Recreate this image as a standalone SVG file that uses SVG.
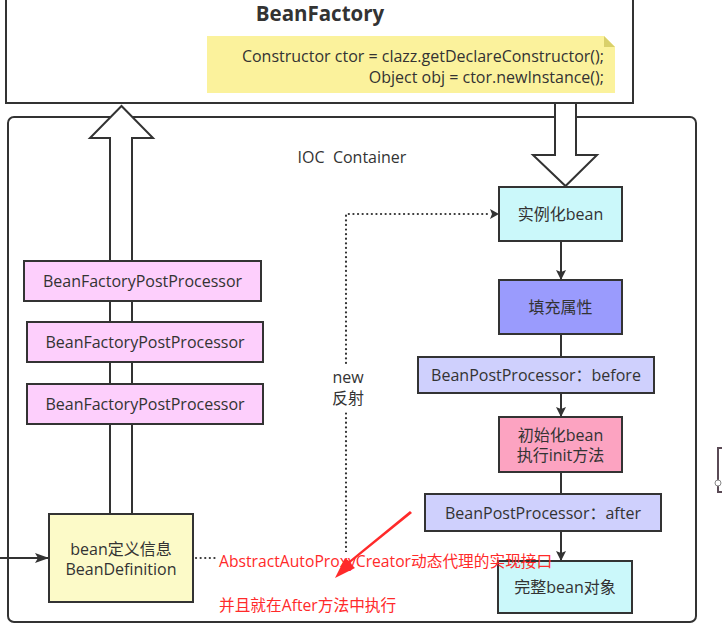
<svg xmlns="http://www.w3.org/2000/svg" width="722" height="631" viewBox="0 0 722 631">
<defs>
<style>
.box{stroke:#333;stroke-width:2}
.t{font-family:"Open Sans","Noto Sans CJK SC",sans-serif;font-size:16px;fill:#333;text-anchor:middle;dominant-baseline:central}
.red{font-family:"Open Sans","Noto Sans CJK SC",sans-serif;font-size:15.7px;fill:#ff2a2a}
.line{stroke:#333;stroke-width:2;fill:none}
.dot{stroke:#333;stroke-width:2.2;fill:none;stroke-dasharray:0.1 4.5;stroke-linecap:round}
.hollow{fill:#fff;stroke:#333;stroke-width:2;stroke-linejoin:miter}
</style>
<marker id="ah" markerWidth="10" markerHeight="10" refX="9" refY="5" orient="auto" markerUnits="userSpaceOnUse">
<path d="M0,0 L10,5 L0,10 L2,5 Z" fill="#333"/>
</marker>
<marker id="ahl" markerWidth="14" markerHeight="12" refX="13" refY="6" orient="auto" markerUnits="userSpaceOnUse">
<path d="M0,1 L14,6 L0,11 L3,6 Z" fill="#333"/>
</marker>
</defs>
<rect width="722" height="631" fill="#fff"/>

<g id="beanfactory">
<rect x="6" y="-2" width="627" height="105" fill="#fff" class="box"/>
<text x="320" y="13" class="t" style="font-size:20.5px;font-weight:bold">BeanFactory</text>
<path d="M207,36 H604 L615,47 V93 H207 Z" fill="#fbf29c"/>
<path d="M604,36 L615,47 H604 Z" fill="#d9d06a"/>
<text x="604" y="56" class="t" style="text-anchor:end">Constructor ctor = clazz.getDeclareConstructor();</text>
<text x="604" y="77" class="t" style="text-anchor:end">Object obj = ctor.newInstance();</text>
</g>

<g id="ioc-container">
<rect x="8" y="117" width="688" height="505" rx="6" fill="#fff" class="box"/>
<text x="352" y="157" class="t" xml:space="preserve">IOC  Container</text>
</g>

<g id="connectors">
<polygon class="hollow" points="110,514 110,138 90,138 121.5,106 153,138 132,138 132,514"/>
<polygon class="hollow" points="555,103 555,155 533,155 565.5,186 597,155 576,155 576,103"/>
<path class="line" d="M0,558 H48" marker-end="url(#ahl)"/>
<path class="line" d="M561,241 V279" marker-end="url(#ah)"/>
<path class="line" d="M561,334 V357"/>
<path class="line" d="M561,393 V416" marker-end="url(#ah)"/>
<path class="line" d="M561,472 V494"/>
<path class="line" d="M561,531 V560" marker-end="url(#ah)"/>
<path class="dot" d="M196,558 H346 V214 H490"/>
<path d="M490,209 L499,214 L490,219 L492,214 Z" fill="#333"/>
<rect x="328" y="366" width="40" height="44" fill="#fff"/>
<text x="348" y="377" class="t">new</text>
<text x="348" y="398" class="t">反射</text>
</g>

<g id="bfpp1">
<rect x="24" y="261" width="237" height="40" fill="#fdcffc" class="box"/>
<text x="142.5" y="281" class="t">BeanFactoryPostProcessor</text>
</g>
<g id="bfpp2">
<rect x="27" y="322" width="236" height="40" fill="#fdcffc" class="box"/>
<text x="145" y="342" class="t">BeanFactoryPostProcessor</text>
</g>
<g id="bfpp3">
<rect x="27" y="384" width="236" height="40" fill="#fdcffc" class="box"/>
<text x="145" y="404" class="t">BeanFactoryPostProcessor</text>
</g>

<g id="beandefinition">
<rect x="49" y="514" width="144" height="88" fill="#fcfac8" class="box"/>
<text x="121" y="549" class="t">bean定义信息</text>
<text x="121" y="569" class="t">BeanDefinition</text>
</g>

<g id="instantiate">
<rect x="499" y="187" width="123" height="54" fill="#cbf8fa" class="box"/>
<text x="560.5" y="214" class="t">实例化bean</text>
</g>
<g id="populate">
<rect x="499" y="280" width="123" height="54" fill="#9a9bfd" class="box"/>
<text x="560.5" y="307" class="t">填充属性</text>
</g>
<g id="bpp-before">
<rect x="418" y="357" width="236" height="36" fill="#cfd0fd" class="box"/>
<text x="536" y="375" class="t">BeanPostProcessor：before</text>
</g>
<g id="init">
<rect x="499" y="417" width="123" height="55" fill="#fca3c1" class="box"/>
<text x="560.5" y="435" class="t">初始化bean</text>
<text x="560.5" y="455" class="t">执行init方法</text>
</g>
<g id="bpp-after">
<rect x="425" y="494" width="236" height="37" fill="#cfd0fd" class="box"/>
<text x="543" y="512.5" class="t">BeanPostProcessor：after</text>
</g>
<g id="complete">
<rect x="498" y="561" width="134" height="52" fill="#cbf8fa" class="box"/>
<text x="565" y="587" class="t">完整bean对象</text>
</g>

<g id="edge-shape">
<rect x="718" y="448" width="12" height="44" fill="#fff" stroke="#5a4a55" stroke-width="2"/>
<circle cx="718" cy="483" r="3" fill="#fff" stroke="#888" stroke-width="1"/>
</g>

<g id="annotation">
<rect x="216" y="552" width="134" height="16" fill="#fff"/>
<polygon points="412,513 350,563 355,568 335,578 345,558 349,561 410,511" fill="#ff2a2a"/>
<text x="219" y="567" class="red">AbstractAutoProxyCreator动态代理的实现接口</text>
<text x="219" y="611" class="red">并且就在After方法中执行</text>
</g>
</svg>
